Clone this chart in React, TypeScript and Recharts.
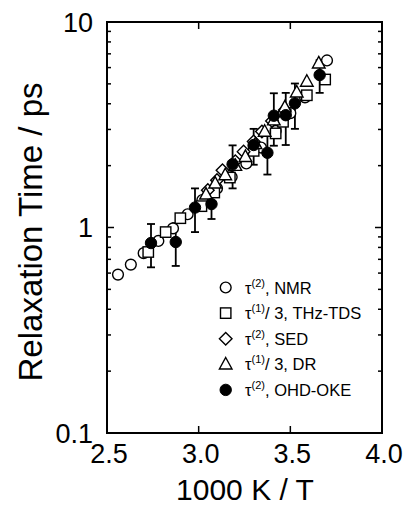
import React from "react";
import { ScatterChart, Scatter, XAxis, YAxis, ErrorBar, ReferenceArea } from "recharts";

// 1000 K / T values and relaxation times (ps)
const nmrX = [2.56, 2.63, 2.7, 2.78, 2.86, 2.94, 3.02, 3.1, 3.18, 3.26, 3.34, 3.42, 3.5, 3.58, 3.7];
const nmrY = [0.59, 0.66, 0.75, 0.86, 0.99, 1.16, 1.36, 1.55, 1.76, 2.05, 2.45, 2.95, 3.6, 4.3, 6.5];

const thzX = [2.725, 2.82, 2.9, 3.015, 3.085, 3.17, 3.3, 3.42, 3.46, 3.59, 3.69];
const thzY = [0.76, 0.95, 1.11, 1.27, 1.48, 1.75, 2.36, 2.87, 3.27, 4.4, 5.25];

const sedX = [3.05, 3.1, 3.13, 3.2, 3.245, 3.3, 3.345, 3.4, 3.47];
const sedY = [1.52, 1.7, 1.9, 2.1, 2.34, 2.62, 2.93, 3.3, 3.73];

const drX = [3.04, 3.09, 3.145, 3.2, 3.255, 3.31, 3.36, 3.41, 3.47, 3.535, 3.59, 3.655];
const drY = [1.45, 1.64, 1.8, 2.0, 2.21, 2.55, 2.93, 3.33, 3.85, 4.55, 5.13, 6.3];

const okeX = [2.74, 2.875, 2.98, 3.07, 3.185, 3.3, 3.375, 3.41, 3.475, 3.525, 3.66];
const okeY = [0.84, 0.85, 1.25, 1.3, 2.03, 2.52, 2.31, 3.5, 3.52, 4.02, 5.52];
const okeErr = [0.2, 0.2, 0.3, 0.2, 0.48, 0.5, 0.5, 1.0, 1.0, 1.0, 1.0];

const xTicks = [2.5, 3.0, 3.5, 4.0];
const yTicks = [0.1, 0.2, 0.3, 0.4, 0.5, 0.6, 0.7, 0.8, 0.9, 1, 2, 3, 4, 5, 6, 7, 8, 9, 10];
const yMajor = [0.1, 1, 10];

const legendItems = [
  { shape: "circle", sup: "(2)", text: ", NMR" },
  { shape: "square", sup: "(1)", text: "/ 3, THz-TDS" },
  { shape: "diamond", sup: "(2)", text: ", SED" },
  { shape: "triangle", sup: "(1)", text: "/ 3, DR" },
  { shape: "dot", sup: "(2)", text: ", OHD-OKE" },
];

const zip = (xs: number[], ys: number[], errs?: number[]) =>
  xs.map((x, i) => ({ x, y: ys[i], err: errs ? errs[i] : 0 }));

const FONT = "'Liberation Sans', Arial, Helvetica, sans-serif";
const PLOT_W = 275;
const PLOT_H = 411;

function Marker({ shape, cx, cy }: { shape: string; cx: number; cy: number }) {
  const common = { stroke: "#000", strokeWidth: 1.4, fill: "#fff" };
  if (shape === "circle") return <circle cx={cx} cy={cy} r={5.4} {...common} />;
  if (shape === "square") return <rect x={cx - 5.2} y={cy - 5.2} width={10.4} height={10.4} {...common} />;
  if (shape === "diamond")
    return <polygon points={`${cx},${cy - 6.3} ${cx + 6.3},${cy} ${cx},${cy + 6.3} ${cx - 6.3},${cy}`} {...common} />;
  if (shape === "triangle")
    return <polygon points={`${cx},${cy - 6.8} ${cx + 6.3},${cy + 4.7} ${cx - 6.3},${cy + 4.7}`} {...common} />;
  return <circle cx={cx} cy={cy} r={5.7} fill="#000" stroke="#000" strokeWidth={1} />;
}

const shapeFn = (shape: string) => (props: any) => <Marker shape={shape} cx={props.cx} cy={props.cy} />;

function YTick({ x, y, payload }: any) {
  const major = yMajor.includes(payload.value);
  const len = major ? 7 : 4;
  return (
    <g>
      <line x1={x} y1={y} x2={x + len} y2={y} stroke="#000" strokeWidth={1.5} />
      <line x1={x + PLOT_W} y1={y} x2={x + PLOT_W - len} y2={y} stroke="#000" strokeWidth={1.5} />
      {major && (
        <text x={x - 14} y={y} dy="0.36em" textAnchor="end" fontSize={27} fontFamily={FONT} fill="#000">
          {payload.value}
        </text>
      )}
    </g>
  );
}

function XTick({ x, y, payload }: any) {
  return (
    <g>
      <line x1={x} y1={y} x2={x} y2={y - 7} stroke="#000" strokeWidth={1.5} />
      <line x1={x} y1={y - PLOT_H} x2={x} y2={y - PLOT_H + 7} stroke="#000" strokeWidth={1.5} />
      <text x={x + 2} y={y + 30} textAnchor="middle" fontSize={27} fontFamily={FONT} fill="#000">
        {payload.value.toFixed(1)}
      </text>
    </g>
  );
}

export default function App() {
  return (
    <div style={{ position: "absolute", left: 0, top: 0, width: 403, height: 508, background: "#fff" }}>
      <ScatterChart width={403} height={508} margin={{ top: 22, right: 21, bottom: 0, left: 0 }}>
        <XAxis
          type="number"
          dataKey="x"
          domain={[2.5, 4]}
          ticks={xTicks}
          interval={0}
          height={75}
          tickSize={0}
          tickMargin={0}
          axisLine={false}
          tick={<XTick />}
          allowDataOverflow
        />
        <YAxis
          type="number"
          dataKey="y"
          scale="log"
          domain={[0.1, 10]}
          ticks={yTicks}
          interval={0}
          width={107}
          tickSize={0}
          tickMargin={0}
          axisLine={false}
          tick={<YTick />}
          allowDataOverflow
        />
        <ReferenceArea x1={2.5} x2={4} y1={0.1} y2={10} fill="none" stroke="#000" strokeWidth={2} ifOverflow="visible" />
        <Scatter data={zip(nmrX, nmrY)} shape={shapeFn("circle")} isAnimationActive={false} />
        <Scatter data={zip(thzX, thzY)} shape={shapeFn("square")} isAnimationActive={false} />
        <Scatter data={zip(sedX, sedY)} shape={shapeFn("diamond")} isAnimationActive={false} />
        <Scatter data={zip(drX, drY)} shape={shapeFn("triangle")} isAnimationActive={false} />
        <Scatter data={zip(okeX, okeY, okeErr)} shape={shapeFn("dot")} isAnimationActive={false}>
          <ErrorBar dataKey="err" direction="y" width={4} stroke="#000" strokeWidth={1.8} isAnimationActive={false} />
        </Scatter>
      </ScatterChart>
      <svg style={{ position: "absolute", left: 0, top: 0 }} width={403} height={508}>
        <text
          transform="translate(42,232) rotate(-90)"
          textAnchor="middle"
          fontSize={33}
          fontFamily={FONT}
          fill="#000"
        >
          Relaxation Time / ps
        </text>
        <text x={245} y={500} textAnchor="middle" fontSize={30} fontFamily={FONT} fill="#000">
          1000 K / T
        </text>
        {legendItems.map((item, i) => {
          const cy = 287.5 + i * 25.6;
          return (
            <g key={item.text}>
              <Marker shape={item.shape} cx={225.7} cy={cy} />
              <text x={245} y={cy + 6} fontSize={16.5} fontFamily={FONT} fill="#000">
                τ
                <tspan fontSize={11} dy={-7}>
                  {item.sup}
                </tspan>
                <tspan dy={7}>{item.text}</tspan>
              </text>
            </g>
          );
        })}
      </svg>
    </div>
  );
}
